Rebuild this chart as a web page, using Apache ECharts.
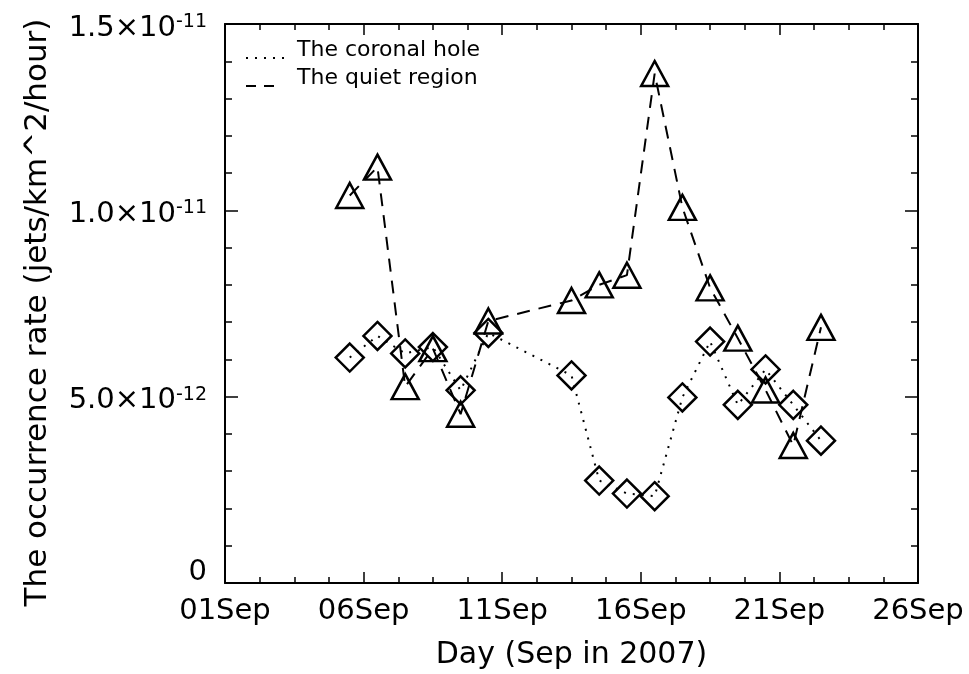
<!DOCTYPE html>
<html>
<head>
<meta charset="utf-8">
<script src="https://cdn.jsdelivr.net/npm/echarts@6/dist/echarts.min.js"></script>
<style>
html,body{margin:0;padding:0;background:#fff;}
#chart{width:969px;height:674px;}
</style>
</head>
<body>
<div id="chart"></div>
<script>
// Day of September 2007 (noon of each day)
const days = [5.5, 6.5, 7.5, 8.5, 9.5, 10.5, 13.5, 14.5, 15.5, 16.5, 17.5, 18.5, 19.5, 20.5, 21.5, 22.5];
// Occurrence rate in units of 1e-12 jets/km^2/hour
const coronalHole = [6.05, 6.63, 6.16, 6.33, 5.17, 6.71, 5.57, 2.75, 2.40, 2.33, 4.98, 6.48, 4.78, 5.73, 4.78, 3.82];
const quietRegion = [10.40, 11.16, 5.27, 6.29, 4.53, 7.03, 7.58, 8.00, 8.26, 13.67, 10.08, 7.92, 6.57, 5.18, 3.69, 6.86];
const legendNames = ['The coronal hole', 'The quiet region'];

const FONT = 'DejaVu Sans';
const dayOffset = 1; // axis runs from day 1 (01Sep) at 0

function pairs(xs, ys) { return xs.map((d, i) => [d - dayOffset, ys[i]]); }

function yLabel(v) {
  if (v === 0) return '{zero|0}';
  const real = v * 1e-12;
  const e = Math.floor(Math.log10(real) + 1e-9);
  const m = real / Math.pow(10, e);
  return '{main|' + m.toFixed(1) + '×10}{sup|-' + (-e) + '}';
}

const chart = echarts.init(document.getElementById('chart'), null, {renderer: 'canvas'});

const axisLine = {show: true, onZero: false, lineStyle: {color: '#000', width: 2}};
const commonX = {
  type: 'value', min: 0, max: 25, interval: 5,
  axisLine: axisLine,
  axisTick: {show: true, inside: true, length: 11, lineStyle: {color: '#000', width: 1.5}},
  minorTick: {show: true, splitNumber: 4, length: 6, lineStyle: {color: '#000', width: 1.5}},
  splitLine: {show: false}
};
const commonY = {
  type: 'value', min: 0, max: 15, interval: 5,
  axisLine: axisLine,
  axisTick: {show: true, inside: true, length: 13, lineStyle: {color: '#000', width: 1.5}},
  minorTick: {show: true, splitNumber: 5, length: 7, lineStyle: {color: '#000', width: 1.5}},
  splitLine: {show: false}
};

const markerStyle = {color: 'rgba(0,0,0,0)', borderColor: '#000', borderWidth: 2.5};

const option = {
  backgroundColor: '#fff',
  animation: false,
  grid: {left: 225, top: 24, right: 51, bottom: 91, containLabel: false, outerBoundsMode: 'none'},
  xAxis: [
    Object.assign({}, commonX, {
      position: 'bottom',
      name: 'Day (Sep in 2007)', nameLocation: 'middle', nameGap: 57,
      nameTextStyle: {fontFamily: FONT, fontSize: 30, color: '#000'},
      axisLabel: {
        margin: 14, fontFamily: FONT, fontSize: 29, color: '#000',
        formatter: v => { const d = v + dayOffset; return (d < 10 ? '0' : '') + d + 'Sep'; }
      }
    }),
    Object.assign({}, commonX, {position: 'top', axisLabel: {show: false}})
  ],
  yAxis: [
    Object.assign({}, commonY, {
      position: 'left',
      name: 'The occurrence rate (jets/km^2/hour)', nameLocation: 'middle', nameGap: 172,
      nameTextStyle: {fontFamily: FONT, fontSize: 31, color: '#000', padding: [0, 18, 0, 0]},
      axisLabel: {
        margin: 18, color: '#000', padding: [8, 0, 0, 0],
        formatter: yLabel,
        rich: {
          main: {fontFamily: FONT, fontSize: 29, color: '#000'},
          sup: {fontFamily: FONT, fontSize: 19, color: '#000', verticalAlign: 'top', padding: [0, 0, 12, 0]},
          zero: {fontFamily: FONT, fontSize: 29, color: '#000', padding: [0, 0, 30, 0]}
        }
      }
    }),
    Object.assign({}, commonY, {position: 'right', axisLabel: {show: false}})
  ],
  series: [
    {
      name: legendNames[0], type: 'line', xAxisIndex: 0, yAxisIndex: 0,
      data: pairs(days, coronalHole),
      symbol: 'diamond', symbolSize: 28, showSymbol: true,
      itemStyle: markerStyle,
      lineStyle: {color: '#000', width: 2, type: [2, 7], cap: 'butt'},
      z: 3
    },
    {
      name: legendNames[1], type: 'line', xAxisIndex: 0, yAxisIndex: 0,
      data: pairs(days, quietRegion),
      symbol: 'triangle', symbolSize: [27, 25], showSymbol: true,
      itemStyle: markerStyle,
      lineStyle: {color: '#000', width: 2, type: [13, 9], cap: 'butt'},
      z: 3
    }
  ],
  graphic: [
    {type: 'line', shape: {x1: 246, y1: 58, x2: 286, y2: 58}, style: {stroke: '#000', lineWidth: 2, lineDash: [2, 7]}},
    {type: 'text', x: 297, y: 50, style: {text: legendNames[0], font: '22px "' + FONT + '"', fill: '#000', verticalAlign: 'middle'}},
    {type: 'line', shape: {x1: 246, y1: 86, x2: 274, y2: 86}, style: {stroke: '#000', lineWidth: 2, lineDash: [10, 8]}},
    {type: 'text', x: 297, y: 78, style: {text: legendNames[1], font: '22px "' + FONT + '"', fill: '#000', verticalAlign: 'middle'}}
  ]
};
chart.setOption(option);
</script>
</body>
</html>
